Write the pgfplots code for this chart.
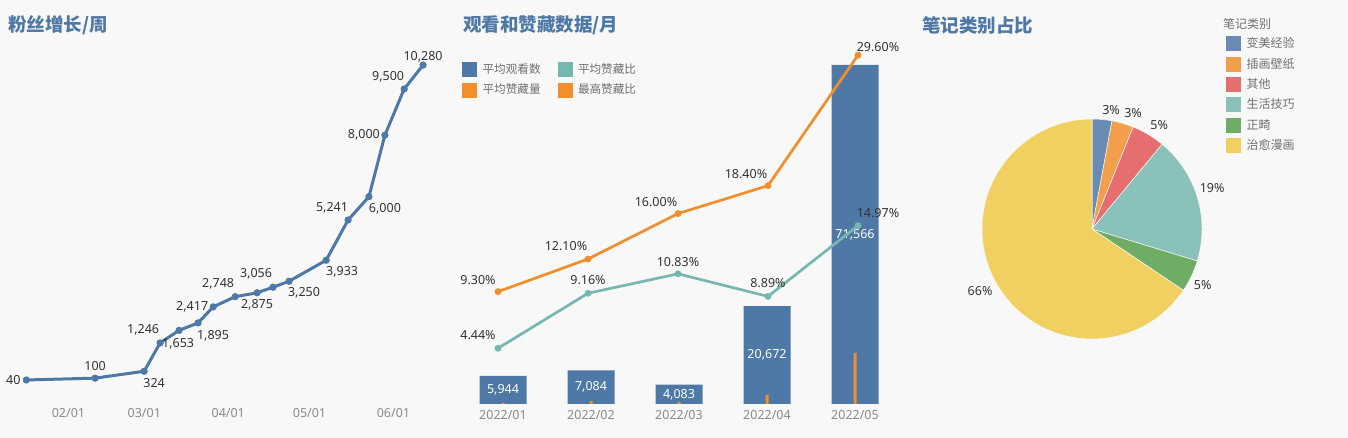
\documentclass[border=0pt]{standalone}
\usepackage{fontspec}
\setmainfont{Noto Sans}
\newfontfamily\cjk{Noto Sans CJK SC}
\usepackage{pgfplots}
\usepackage{pgfplotstable}
\pgfplotsset{compat=1.18}

\definecolor{bg}{HTML}{F8F8F8}
\definecolor{tblue}{HTML}{4E79A7}
\definecolor{tteal}{HTML}{76B7B2}
\definecolor{torange}{HTML}{F28E2B}
\definecolor{txt}{HTML}{333333}
\definecolor{tickc}{HTML}{8A8A8A}
\definecolor{leg}{HTML}{707070}
\definecolor{pA}{HTML}{6A8CB4}
\definecolor{pB}{HTML}{F29F4B}
\definecolor{pC}{HTML}{E56E6E}
\definecolor{pD}{HTML}{8BC1BB}
\definecolor{pE}{HTML}{6FAD66}
\definecolor{pF}{HTML}{F1D062}

\newcommand\num{\fontsize{12.5pt}{15pt}\selectfont}
\newcommand\ttl{\cjk\bfseries\fontsize{18.5pt}{20pt}\selectfont}
\pgfkeys{/pgf/number format/.cd, 1000 sep={,}, assume math mode=true}

% fans per week: day of year, value, label offset
\pgfplotstableread{
d v dx dy
16 40 -13 0
41.4 100 0 12
59.5 324 10 -12
65.4 1246 -17 13
72.4 1653 -1 -13
79.4 1895 15 -13
85 2417 -21 0
93.1 2748 -17 13
101.2 2875 0 -12
107.1 3056 -17 13
113 3250 15 -12
126.7 3933 16 -12
134.8 5241 -16 12
142.5 6000 16 -12
148.4 8000 -21 0
155.5 9500 -16 12
162.5 10280 0 8
}\fans

\pgfplotstableread{
x v likes
0 5944 280
1 7084 630
2 4083 420
3 20672 1900
4 71566 10770
}\views

\pgfplotstableread{
x hi avg dxh dyh dxa dya
0 9.30 4.44 -20 12 -20 13
1 12.10 9.16 -22 13 0 13
2 16.00 10.83 -22 12 0 12
3 18.40 8.89 -22 12 0 13
4 29.60 14.97 20 8 20 13
}\rates

\begin{document}
\begin{tikzpicture}
\fill[bg] (0,0) rectangle (1348pt,438pt);
\node[anchor=west, text=tblue, font=\ttl, inner sep=0pt] at (8pt,413pt) {粉丝增长/周};
\node[anchor=west, text=tblue, font=\ttl, inner sep=0pt] at (463pt,413pt) {观看和赞藏数据/月};
\node[anchor=west, text=tblue, font=\ttl, inner sep=0pt] at (922pt,413pt) {笔记类别占比};

% panel 1: fans
\begin{axis}[
    at={(10.08pt,41.4pt)}, anchor=south west,
    scale only axis, width=427.9pt, height=353.7pt,
    xmin=10, xmax=168, ymin=-500, ymax=11000,
    axis line style={draw=none}, tick style={draw=none},
    ytick=\empty, scaled y ticks=false,
    xtick={31,59,90,120,151},
    xticklabels={02/01,03/01,04/01,05/01,06/01},
    xticklabel style={anchor=center, yshift=-16.4pt, xshift=1.5pt, text=tickc, font=\num},
    clip=false,
]
\addplot[tblue, line width=3pt, mark=*, mark size=3.2pt, mark options={line width=0.8pt},
    nodes near coords,
    visualization depends on={\thisrow{dx}\as\lblx},
    visualization depends on={\thisrow{dy}\as\lbly},
    every node near coord/.append style={anchor=center, xshift=\lblx, yshift=\lbly,
        text=txt, font=\num, inner sep=0pt},
] table[x=d, y=v] \fans;
\end{axis}

% panel 2: bars
\begin{axis}[
    at={(459pt,34pt)}, anchor=south west,
    scale only axis, width=440pt, height=355.3pt,
    xmin=-0.5, xmax=4.5, ymin=0, ymax=75000,
    axis line style={draw=none}, tick style={draw=none},
    ytick=\empty, scaled y ticks=false,
    xtick={0,...,4},
    xticklabels={2022/01,2022/02,2022/03,2022/04,2022/05},
    xticklabel style={anchor=center, yshift=-11pt, text=tickc, font=\num},
    clip=false,
    legend columns=2,
    legend cell align=left,
    legend image code/.code={\fill[#1] (0pt,-7pt) rectangle (14pt,7pt);},
    legend style={at={(axis description cs:0,1)}, anchor=north west,
        xshift=3pt, yshift=-13.3pt, draw=none, fill=none, inner sep=0pt,
        font=\cjk\fontsize{11.6pt}{13pt}\selectfont, text=leg, row sep=6pt,
        /tikz/every odd column/.append style={column sep=6pt},
        /tikz/every even column/.append style={column sep=17pt},
        nodes={inner sep=0pt}},
]
\addplot[ybar, bar width=47pt, bar shift=0pt, fill=tblue, draw=none, forget plot]
    table[x=x, y=v] \views;
\addplot[ybar, bar width=3pt, bar shift=0pt, fill=torange, draw=none, forget plot]
    table[x=x, y=likes] \views;
\addplot[draw=none, forget plot, nodes near coords, point meta=\thisrow{v},
    every node near coord/.append style={anchor=center, text=white, font=\num, inner sep=0pt}]
    table[x=x, y expr=\thisrow{v}/2] \views;
\addlegendimage{tblue}\addlegendentry{平均观看数}
\addlegendimage{tteal}\addlegendentry{平均赞藏比}
\addlegendimage{torange}\addlegendentry{平均赞藏量}
\addlegendimage{torange}\addlegendentry{最高赞藏比}
\end{axis}

% panel 2: rates
\begin{axis}[
    at={(453pt,38pt)}, anchor=south west,
    scale only axis, width=450pt, height=349.5pt,
    xmin=-0.5, xmax=4.5, ymin=0, ymax=30,
    hide axis, clip=false,
]
\addplot[torange, line width=2.7pt, mark=*, mark size=3pt, mark options={line width=0.8pt},
    nodes near coords={\pgfmathprintnumber[fixed,zerofill,precision=2]{\pgfplotspointmeta}\%},
    visualization depends on={\thisrow{dxh}\as\lblx},
    visualization depends on={\thisrow{dyh}\as\lbly},
    every node near coord/.append style={anchor=center, xshift=\lblx, yshift=\lbly,
        text=txt, font=\num, inner sep=0pt},
] table[x=x, y=hi] \rates;
\addplot[tteal, line width=2.7pt, mark=*, mark size=3pt, mark options={line width=0.8pt},
    nodes near coords={\pgfmathprintnumber[fixed,zerofill,precision=2]{\pgfplotspointmeta}\%},
    visualization depends on={\thisrow{dxa}\as\lblx},
    visualization depends on={\thisrow{dya}\as\lbly},
    every node near coord/.append style={anchor=center, xshift=\lblx, yshift=\lbly,
        text=txt, font=\num, inner sep=0pt},
] table[x=x, y=avg] \rates;
\end{axis}

% panel 3: pie (shares in %: 2.9 3.2 4.9 18.7 4.7 65.6, clockwise from top)
\begin{axis}[
    at={(900pt,0pt)}, anchor=south west,
    x=1pt, y=1pt, xmin=900, xmax=1348, ymin=0, ymax=438,
    hide axis, clip=false,
    legend cell align=left,
    legend image code/.code={\fill[#1] (0pt,-7pt) rectangle (14pt,7pt);},
    legend style={at={(axis description cs:0.72768,0.91781)}, anchor=north west,
        draw=none, fill=none, inner sep=0pt,
        font=\cjk\fontsize{12pt}{14pt}\selectfont, text=leg, row sep=6pt,
        /tikz/every odd column/.append style={column sep=6pt},
        nodes={inner sep=0pt}},
]
\fill[pA, draw=bg, line width=0.5pt] (axis cs:1092,209) -- +(90:110pt)
    arc[start angle=90, end angle={90-3.6*2.9}, radius=110pt] -- cycle;
\fill[pB, draw=bg, line width=0.5pt] (axis cs:1092,209) -- +({90-3.6*2.9}:110pt)
    arc[start angle={90-3.6*2.9}, end angle={90-3.6*6.1}, radius=110pt] -- cycle;
\fill[pC, draw=bg, line width=0.5pt] (axis cs:1092,209) -- +({90-3.6*6.1}:110pt)
    arc[start angle={90-3.6*6.1}, end angle={90-3.6*11.0}, radius=110pt] -- cycle;
\fill[pD, draw=bg, line width=0.5pt] (axis cs:1092,209) -- +({90-3.6*11.0}:110pt)
    arc[start angle={90-3.6*11.0}, end angle={90-3.6*29.7}, radius=110pt] -- cycle;
\fill[pE, draw=bg, line width=0.5pt] (axis cs:1092,209) -- +({90-3.6*29.7}:110pt)
    arc[start angle={90-3.6*29.7}, end angle={90-3.6*34.4}, radius=110pt] -- cycle;
\fill[pF, draw=bg, line width=0.5pt] (axis cs:1092,209) -- +({90-3.6*34.4}:110pt)
    arc[start angle={90-3.6*34.4}, end angle=-270, radius=110pt] -- cycle;
\path (axis cs:1092,209) ++(80.9:120.5pt) node[text=txt, font=\num] {3\%};
\path (axis cs:1092,209) ++(70.5:123pt) node[text=txt, font=\num] {3\%};
\path (axis cs:1092,209) ++(57.2:124pt) node[text=txt, font=\num] {5\%};
\path (axis cs:1092,209) ++(18.9:127pt) node[text=txt, font=\num] {19\%};
\path (axis cs:1092,209) ++(-26.8:124pt) node[text=txt, font=\num] {5\%};
\path (axis cs:1092,209) ++(-151:128pt) node[text=txt, font=\num] {66\%};
\node[anchor=west, inner sep=0pt, text=leg, font=\cjk\fontsize{12pt}{14pt}\selectfont]
    at (axis cs:1223,414) {笔记类别};
\addlegendimage{pA}\addlegendentry{变美经验}
\addlegendimage{pB}\addlegendentry{插画壁纸}
\addlegendimage{pC}\addlegendentry{其他}
\addlegendimage{pD}\addlegendentry{生活技巧}
\addlegendimage{pE}\addlegendentry{正畸}
\addlegendimage{pF}\addlegendentry{治愈漫画}
\end{axis}
\end{tikzpicture}
\end{document}
